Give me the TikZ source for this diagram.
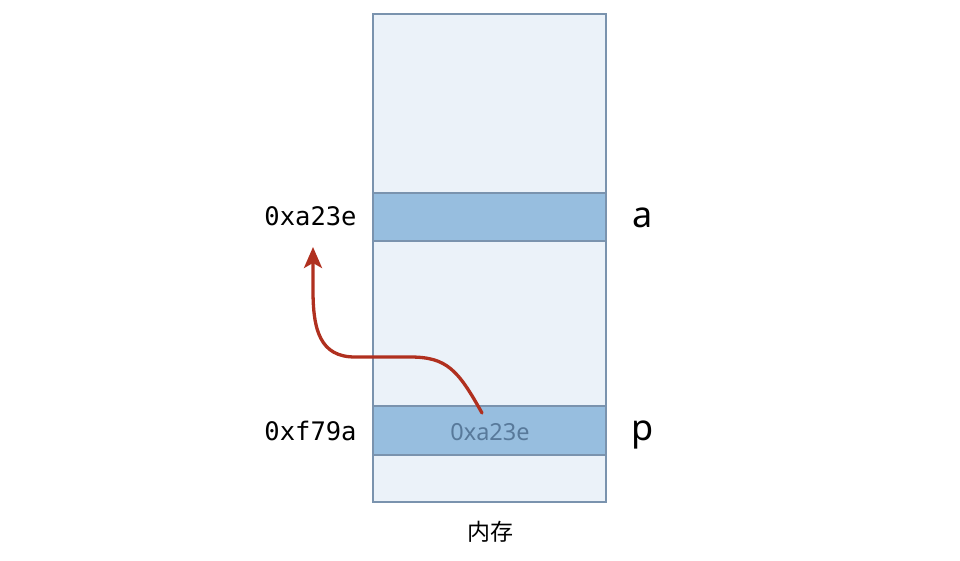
\documentclass[tikz,border=0pt]{standalone}
\usepackage{fontspec}
\setmainfont{Noto Sans}
\setmonofont{DejaVu Sans Mono}
\newfontfamily\cjk{Noto Sans CJK SC}
\usetikzlibrary{arrows.meta}
\definecolor{memfill}{HTML}{EBF2F9}
\definecolor{memline}{HTML}{7A93AE}
\definecolor{bandfill}{HTML}{97BEDF}
\definecolor{valtext}{HTML}{58799A}
\definecolor{arrowred}{HTML}{B0301F}
\begin{document}
\begin{tikzpicture}[x=1pt,y=-1pt,
  mem/.style={draw=memline,fill=memfill,line width=1.2pt},
  band/.style={draw=memline,fill=bandfill,line width=1.2pt},
  addr/.style={font=\ttfamily\fontsize{25.5}{28}\selectfont,text=black,inner sep=0pt,anchor=base},
  varname/.style={font=\fontsize{36}{40}\selectfont,text=black,inner sep=0pt,anchor=base},
  val/.style={font=\fontsize{23.5}{26}\selectfont,text=valtext,inner sep=0pt,anchor=base},
  memlabel/.style={font=\cjk\fontsize{23}{26}\selectfont,text=black,inner sep=0pt},
  ptr/.style={draw=arrowred,line width=3.3pt,line cap=round,-{Stealth[length=21pt,width=18pt,inset=5pt]}}
]
\useasboundingbox (0,0) rectangle (960,561);
\node[mem,minimum width=233pt,minimum height=488pt,inner sep=0pt] (memory) at (489.5,258) {};
\node[band,minimum width=233pt,minimum height=48pt,inner sep=0pt] (cella) at (489.5,217) {};
\node[band,minimum width=233pt,minimum height=49pt,inner sep=0pt] (cellp) at (489.5,430.5) {};
\node[addr] (addra) at (310.5,225.5) {0xa23e};
\node[addr] (addrp) at (310.5,440) {0xf79a};
\node[varname] (namea) at (642.5,228) {a};
\node[varname] (namep) at (643,440) {p};
\node[val] (valp) at (490,440) {0xa23e};
\node[memlabel] (memcap) at (490,532) {内存};
\coordinate (pstart) at (482,413);
\coordinate (atip) at (313,247);
\draw[ptr] (pstart) .. controls (458,370) and (447,357) .. (410,357)
  -- (355,357) .. controls (320,357) and (313,330) .. (313,290) -- (atip);
\end{tikzpicture}
\end{document}
